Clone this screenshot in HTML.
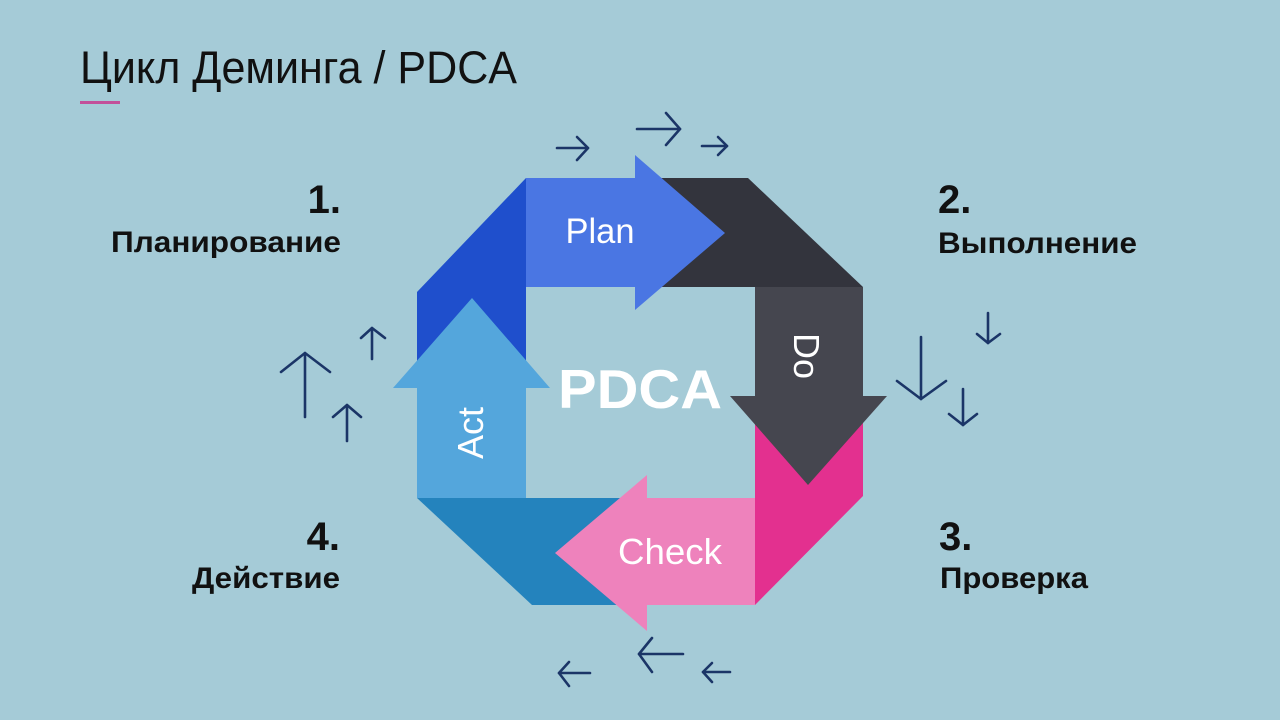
<!DOCTYPE html>
<html>
<head>
<meta charset="utf-8">
<style>
  html, body { margin: 0; padding: 0; }
  body { width: 1280px; height: 720px; overflow: hidden; background: #a5cbd7; }
  svg { display: block; }
  .t { font-family: "Liberation Sans", "DejaVu Sans", sans-serif; }
</style>
</head>
<body>
<svg width="1280" height="720" viewBox="0 0 1280 720" xmlns="http://www.w3.org/2000/svg">
  <rect x="0" y="0" width="1280" height="720" fill="#a5cbd7"/>

  <!-- Title -->
  <text class="t" x="80" y="83" font-size="45" fill="#111" textLength="437" lengthAdjust="spacingAndGlyphs">Цикл Деминга / PDCA</text>
  <rect x="80" y="101" width="40" height="3" fill="#c2509a"/>

  <!-- Corner segments -->
  <polygon points="417,292 526,178 526,390 417,390" fill="#1f4fcc"/>
  <polygon points="640,178 748,178 863,287 640,287" fill="#33343d"/>
  <polygon points="755,420 863,420 863,496 755,605" fill="#e3308f"/>
  <polygon points="417,498 660,498 660,605 532,605" fill="#2483bd"/>

  <!-- Arrows -->
  <polygon points="417,498 526,498 526,388 550,388 472,298 393,388 417,388" fill="#54a6dc"/>
  <polygon points="526,178 635,178 635,155 725,233 635,310 635,287 526,287" fill="#4a76e3"/>
  <polygon points="755,287 863,287 863,396 887,396 808,485 730,396 755,396" fill="#45464f"/>
  <polygon points="755,498 755,605 647,605 647,631 555,553 647,475 647,498" fill="#ee82bc"/>

  <!-- Arrow labels -->
  <text class="t" x="600" y="243" font-size="35" fill="#fff" text-anchor="middle" textLength="69" lengthAdjust="spacingAndGlyphs">Plan</text>
  <text class="t" transform="translate(794,356) rotate(90)" font-size="36" fill="#fff" text-anchor="middle">Do</text>
  <text class="t" x="670" y="564" font-size="36" fill="#fff" text-anchor="middle" textLength="104" lengthAdjust="spacingAndGlyphs">Check</text>
  <text class="t" transform="translate(483,433) rotate(-90)" font-size="36" fill="#fff" text-anchor="middle">Act</text>
  <text class="t" x="640" y="408" font-size="55" font-weight="bold" fill="#fff" text-anchor="middle" textLength="164" lengthAdjust="spacingAndGlyphs">PDCA</text>

  <!-- Step labels -->
  <text class="t" x="341" y="213" font-size="40" font-weight="bold" fill="#111" text-anchor="end">1.</text>
  <text class="t" x="341" y="252" font-size="30" font-weight="bold" fill="#111" text-anchor="end" textLength="230" lengthAdjust="spacingAndGlyphs">Планирование</text>

  <text class="t" x="938" y="213" font-size="40" font-weight="bold" fill="#111">2.</text>
  <text class="t" x="938" y="253" font-size="30" font-weight="bold" fill="#111" textLength="199" lengthAdjust="spacingAndGlyphs">Выполнение</text>

  <text class="t" x="939" y="550" font-size="40" font-weight="bold" fill="#111">3.</text>
  <text class="t" x="940" y="588" font-size="30" font-weight="bold" fill="#111" textLength="148" lengthAdjust="spacingAndGlyphs">Проверка</text>

  <text class="t" x="340" y="550" font-size="40" font-weight="bold" fill="#111" text-anchor="end">4.</text>
  <text class="t" x="340" y="588" font-size="30" font-weight="bold" fill="#111" text-anchor="end" textLength="148" lengthAdjust="spacingAndGlyphs">Действие</text>

  <!-- Small decorative arrows -->
  <g stroke="#1b3567" stroke-width="2.6" fill="none" stroke-linecap="round" stroke-linejoin="round">
    <!-- top, pointing right -->
    <line x1="557" y1="148" x2="588" y2="148"/><polyline points="577,137 588,148 577,160"/>
    <line x1="637" y1="129" x2="680" y2="129"/><polyline points="666,113 680,129 666,145"/>
    <line x1="702" y1="146" x2="727" y2="146"/><polyline points="718,137 727,146 718,155"/>

    <!-- bottom, pointing left -->
    <line x1="559" y1="673" x2="590" y2="673"/><polyline points="569,662 559,673 569,686"/>
    <line x1="639" y1="654" x2="683" y2="654"/><polyline points="652,638 639,654 652,672"/>
    <line x1="703" y1="672" x2="730" y2="672"/><polyline points="712,663 703,672 712,682"/>

    <!-- left, pointing up -->
    <line x1="305" y1="353" x2="305" y2="417"/><polyline points="281,372 305,353 330,372"/>
    <line x1="372" y1="328" x2="372" y2="359"/><polyline points="361,338 372,328 385,338"/>
    <line x1="347" y1="405" x2="347" y2="441"/><polyline points="333,417 347,405 361,417"/>

    <!-- right, pointing down -->
    <line x1="921" y1="337" x2="921" y2="399"/><polyline points="897,381 921,399 946,381"/>
    <line x1="988" y1="313" x2="988" y2="343"/><polyline points="977,334 988,343 1000,334"/>
    <line x1="963" y1="389" x2="963" y2="425"/><polyline points="949,414 963,425 977,414"/>
  </g>
</svg>
</body>
</html>
